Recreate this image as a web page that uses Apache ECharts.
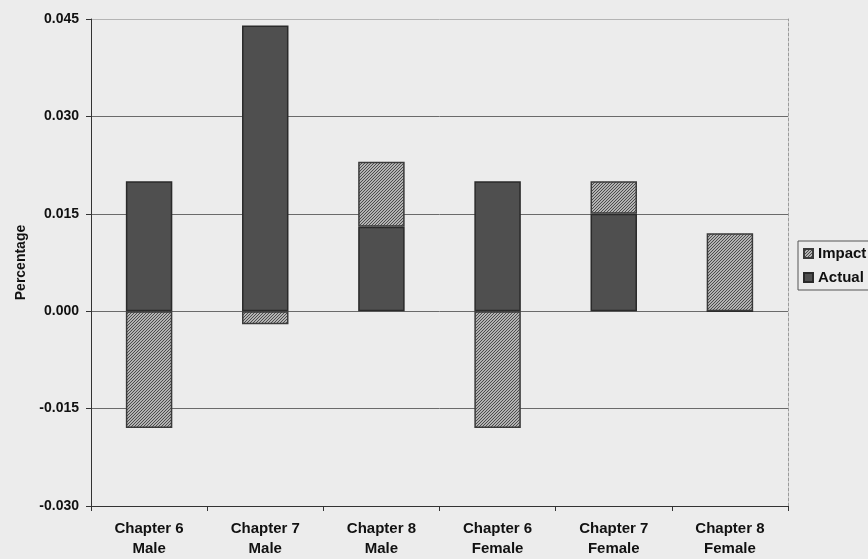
<!DOCTYPE html>
<html>
<head>
<meta charset="utf-8">
<title>Impact vs Actual by chapter</title>
<script src="https://cdn.jsdelivr.net/npm/echarts@6/dist/echarts.min.js"></script>
<style>
  html, body { margin: 0; padding: 0; background: #ececec; }
  #chart { width: 868px; height: 559px; }
</style>
</head>
<body>
<div id="chart"></div>
<script>
// Category labels (chapter / sex)
const categories = [
  'Chapter 6\nMale', 'Chapter 7\nMale', 'Chapter 8\nMale',
  'Chapter 6\nFemale', 'Chapter 7\nFemale', 'Chapter 8\nFemale'
];
// Stacked components: Actual at the base, Impact on top (negatives stack below zero)
const actualValues = [0.020, 0.044, 0.013, 0.020, 0.015, 0.000];
const impactValues = [-0.018, -0.002, 0.010, -0.018, 0.005, 0.012];
// Value axis ticks
const yTicks = [-0.030, -0.015, 0.000, 0.015, 0.030, 0.045];

// Diagonal hatch tile used for the Impact series
function hatchTile() {
  const c = document.createElement('canvas');
  c.width = 3; c.height = 3;
  const g = c.getContext('2d');
  g.fillStyle = '#b2b2b2';
  g.fillRect(0, 0, 3, 3);
  g.fillStyle = '#4c4c4c';
  g.fillRect(0, 2, 1, 1);
  g.fillRect(1, 1, 1, 1);
  g.fillRect(2, 0, 1, 1);
  return c;
}
const hatch = { image: hatchTile(), repeat: 'repeat' };

const font = '"Liberation Sans", Arial, sans-serif';
const chart = echarts.init(document.getElementById('chart'), null, { renderer: 'canvas' });

chart.setOption({
  backgroundColor: '#ececec',
  animation: false,
  grid: { left: 91, right: 80, top: 19, bottom: 51, containLabel: false },
  legend: {
    orient: 'vertical',
    left: 798,
    top: 241,
    padding: [5, 30, 5, 5],
    itemWidth: 9,
    itemHeight: 9,
    itemGap: 9,
    borderColor: '#555',
    borderWidth: 1,
    backgroundColor: '#ececec',
    icon: 'rect',
    data: ['Impact', 'Actual'],
    textStyle: { fontFamily: font, fontWeight: 'bold', fontSize: 15, color: '#111', lineHeight: 14 }
  },
  xAxis: {
    type: 'category',
    data: categories,
    axisLine: { onZero: false, lineStyle: { color: '#333', width: 1 } },
    axisTick: { show: true, length: 5, lineStyle: { color: '#333' } },
    axisLabel: {
      margin: 13,
      fontFamily: font, fontWeight: 'bold', fontSize: 15, color: '#111',
      lineHeight: 20, interval: 0
    },
    splitLine: { show: false }
  },
  yAxis: [{
    type: 'value',
    min: yTicks[0],
    max: yTicks[yTicks.length - 1],
    interval: 0.015,
    name: 'Percentage',
    nameLocation: 'middle',
    nameGap: 63,
    nameTextStyle: { fontFamily: font, fontWeight: 'bold', fontSize: 14, color: '#111' },
    axisLine: { show: true, lineStyle: { color: '#333', width: 1 } },
    axisTick: { show: true, length: 5, lineStyle: { color: '#333' } },
    axisLabel: {
      margin: 12,
      fontFamily: font, fontWeight: 'bold', fontSize: 14, color: '#111',
      formatter: v => v.toFixed(3)
    },
    splitLine: {
      show: true,
      lineStyle: { color: ['#333', '#6a6a6a', '#6a6a6a', '#6a6a6a', '#6a6a6a', '#b4b4b4'], width: 1 }
    }
  }, {
    // right-hand plot border
    type: 'value',
    position: 'right',
    min: yTicks[0],
    max: yTicks[yTicks.length - 1],
    interval: 0.015,
    axisLine: { show: true, lineStyle: { color: '#9a9a9a', type: [3, 2], width: 1 } },
    axisTick: { show: false },
    axisLabel: { show: false },
    splitLine: { show: false }
  }],
  series: [{
    name: 'Actual',
    type: 'bar',
    stack: 'total',
    barCategoryGap: '60%',
    data: actualValues,
    itemStyle: { color: '#4f4f4f', borderColor: '#2a2a2a', borderWidth: 1.5 }
  }, {
    name: 'Impact',
    type: 'bar',
    stack: 'total',
    barCategoryGap: '60%',
    data: impactValues,
    itemStyle: { color: hatch, borderColor: '#3a3a3a', borderWidth: 1.5 }
  }]
});
</script>
</body>
</html>
